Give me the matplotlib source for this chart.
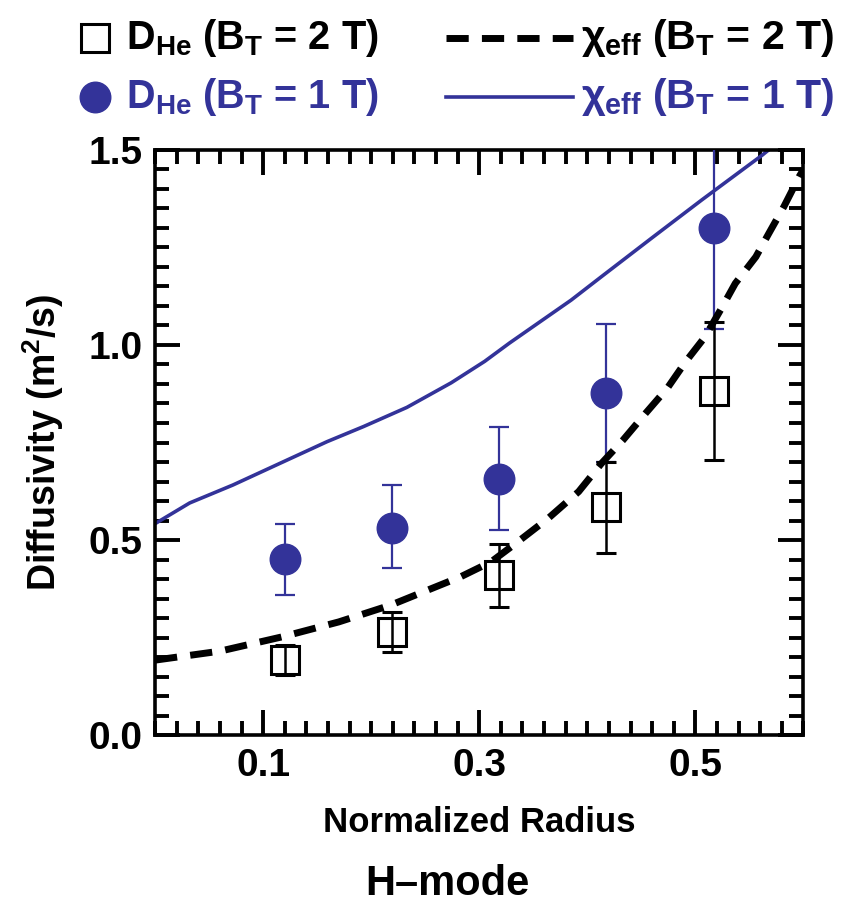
import numpy as np
import matplotlib
matplotlib.use("Agg")
import matplotlib.pyplot as plt
from matplotlib.lines import Line2D
from matplotlib.ticker import MultipleLocator, FixedLocator

FONT = "Liberation Sans"
plt.rcParams['font.family'] = [FONT, 'DejaVu Sans']
plt.rcParams['font.weight'] = 'bold'
plt.rcParams['axes.labelweight'] = 'bold'
plt.rcParams['mathtext.fontset'] = 'custom'
plt.rcParams['mathtext.rm'] = FONT + ':bold'
plt.rcParams['mathtext.bf'] = FONT + ':bold'
plt.rcParams['mathtext.it'] = FONT + ':bold'

BLUE = '#333399'

# measured points (normalized radius)
r = [0.12, 0.219, 0.318, 0.417, 0.517]
d_2t = [0.192, 0.265, 0.409, 0.585, 0.882]
d_2t_lo = [0.153, 0.212, 0.329, 0.467, 0.705]
d_2t_hi = [0.231, 0.316, 0.489, 0.700, 1.059]
d_1t = [0.451, 0.532, 0.656, 0.876, 1.301]
d_1t_lo = [0.360, 0.427, 0.526, 0.701, 1.040]
d_1t_hi = [0.540, 0.641, 0.790, 1.053, 1.600]

# chi_eff profiles
chi2_r = [0.0, 0.06, 0.118, 0.17, 0.218, 0.283, 0.311, 0.336, 0.364, 0.392, 0.413, 0.433,
          0.454, 0.474, 0.491, 0.509, 0.525, 0.537, 0.556, 0.568, 0.582, 0.596, 0.6]
chi2 = [0.192, 0.215, 0.252, 0.29, 0.333, 0.406, 0.444, 0.496, 0.556, 0.624, 0.696, 0.756,
        0.825, 0.889, 0.957, 1.021, 1.098, 1.158, 1.226, 1.286, 1.355, 1.431, 1.45]
chi1_r = [0.0, 0.032, 0.072, 0.119, 0.159, 0.193, 0.233, 0.274, 0.305, 0.328, 0.385, 0.413,
          0.46, 0.506, 0.562, 0.57]
chi1 = [0.542, 0.595, 0.641, 0.701, 0.752, 0.791, 0.840, 0.903, 0.958, 1.005, 1.115, 1.175,
        1.275, 1.372, 1.487, 1.505]

xticks = [0.1, 0.3, 0.5]
yticks = [0.0, 0.5, 1.0, 1.5]

fig = plt.figure(figsize=(8.43, 9.09), dpi=100)
ax = fig.add_axes([0.184, 0.1914, 0.769, 0.6436])

ax.plot(chi1_r, chi1, color=BLUE, lw=2.6, zorder=2)

e1 = [np.array(d_1t) - np.array(d_1t_lo), np.array(d_1t_hi) - np.array(d_1t)]
ax.errorbar(r, d_1t, yerr=e1, fmt='o', color=BLUE, ms=22, elinewidth=1.6,
            capsize=7, capthick=1.6, zorder=3)

e2 = [np.array(d_2t) - np.array(d_2t_lo), np.array(d_2t_hi) - np.array(d_2t)]
ax.errorbar(r, d_2t, yerr=e2, fmt='s', color='black', mfc='none', mec='black',
            ms=20, mew=2.2, elinewidth=1.8, capsize=7, capthick=1.8, zorder=3)

ax.plot(chi2_r, chi2, color='black', lw=5, dashes=(3.2, 1.9), zorder=4)

ax.set_xlim(0, 0.6)
ax.set_ylim(0, 1.5)
ax.xaxis.set_major_locator(FixedLocator(xticks))
ax.xaxis.set_minor_locator(MultipleLocator(0.02))
ax.yaxis.set_major_locator(FixedLocator(yticks))
ax.yaxis.set_minor_locator(MultipleLocator(0.05))
ax.set_xticklabels(['%.1f' % v for v in xticks])
ax.set_yticklabels(['%.1f' % v for v in yticks])
ax.tick_params(which='both', direction='in', top=True, right=True, width=2.8)
ax.tick_params(which='major', length=18, labelsize=28, pad=9)
ax.tick_params(which='minor', length=10)
for s in ax.spines.values():
    s.set_linewidth(2.6)

ax.set_xlabel('Normalized Radius', fontsize=25, labelpad=16)
ax.set_ylabel('Diffusivity (m$^{2}$/s)', fontsize=27, labelpad=16)
fig.text(0.531, 0.028, 'H\u2013mode', fontsize=30, ha='center', va='center')

# legend, drawn by hand
lab = r' (B$_{\mathrm{T}}$ = %s T)'
fig.add_artist(Line2D([0.113], [0.958], marker='s', ms=20, mfc='none', mec='black', mew=2.2,
                      transform=fig.transFigure))
fig.add_artist(Line2D([0.113], [0.893], marker='o', ms=22, color=BLUE,
                      transform=fig.transFigure))
fig.text(0.149, 0.958, r'D$_{\mathrm{He}}$' + lab % '2', fontsize=28.5, va='center')
fig.text(0.149, 0.893, r'D$_{\mathrm{He}}$' + lab % '1', fontsize=28.5, va='center', color=BLUE)
fig.add_artist(Line2D([0.529, 0.68], [0.958, 0.958], color='black', lw=5, dashes=(3.2, 1.9),
                      transform=fig.transFigure))
fig.add_artist(Line2D([0.529, 0.68], [0.893, 0.893], color=BLUE, lw=2.6,
                      transform=fig.transFigure))
fig.text(0.689, 0.958, r'$\chi_{\mathrm{eff}}$' + lab % '2', fontsize=29.5, va='center')
fig.text(0.689, 0.893, r'$\chi_{\mathrm{eff}}$' + lab % '1', fontsize=29.5, va='center', color=BLUE)

fig.savefig('out.png', dpi=100)
